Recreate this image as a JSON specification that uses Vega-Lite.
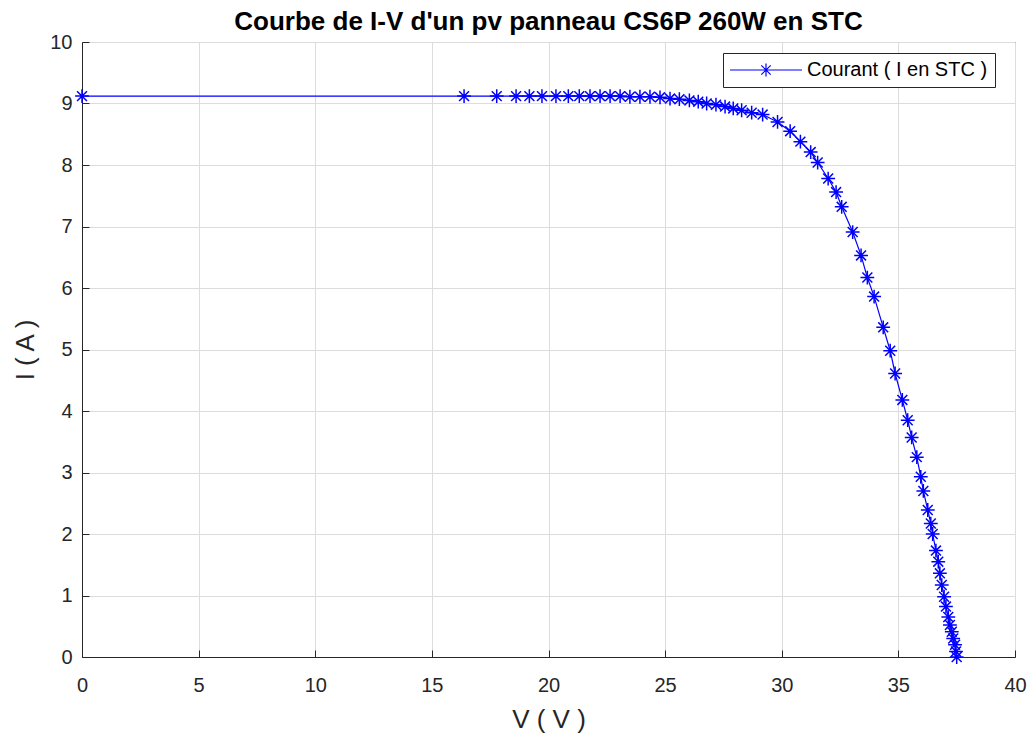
{
  "$schema": "https://vega.github.io/schema/vega-lite/v6.json",
  "width": 933,
  "height": 615,
  "autosize": {"type": "none"},
  "padding": {"left": 82, "top": 42, "right": 16, "bottom": 83},
  "background": "white",
  "title": {
    "text": "Courbe de I-V d'un pv panneau CS6P 260W en STC",
    "font": "Liberation Sans, Arial",
    "fontSize": 26,
    "fontWeight": "bold",
    "color": "#000000",
    "anchor": "middle",
    "offset": -3
  },
  "data": {
    "values": [
      {"V": 0, "I": 9.12, "s": "Courant ( I en STC )"},
      {"V": 16.38, "I": 9.12, "s": "Courant ( I en STC )"},
      {"V": 17.78, "I": 9.12, "s": "Courant ( I en STC )"},
      {"V": 18.61, "I": 9.12, "s": "Courant ( I en STC )"},
      {"V": 19.18, "I": 9.12, "s": "Courant ( I en STC )"},
      {"V": 19.72, "I": 9.12, "s": "Courant ( I en STC )"},
      {"V": 20.32, "I": 9.12, "s": "Courant ( I en STC )"},
      {"V": 20.85, "I": 9.12, "s": "Courant ( I en STC )"},
      {"V": 21.32, "I": 9.12, "s": "Courant ( I en STC )"},
      {"V": 21.78, "I": 9.12, "s": "Courant ( I en STC )"},
      {"V": 22.21, "I": 9.12, "s": "Courant ( I en STC )"},
      {"V": 22.64, "I": 9.12, "s": "Courant ( I en STC )"},
      {"V": 23.07, "I": 9.12, "s": "Courant ( I en STC )"},
      {"V": 23.49, "I": 9.11, "s": "Courant ( I en STC )"},
      {"V": 23.92, "I": 9.11, "s": "Courant ( I en STC )"},
      {"V": 24.35, "I": 9.11, "s": "Courant ( I en STC )"},
      {"V": 24.78, "I": 9.10, "s": "Courant ( I en STC )"},
      {"V": 25.21, "I": 9.08, "s": "Courant ( I en STC )"},
      {"V": 25.61, "I": 9.07, "s": "Courant ( I en STC )"},
      {"V": 26.04, "I": 9.05, "s": "Courant ( I en STC )"},
      {"V": 26.42, "I": 9.03, "s": "Courant ( I en STC )"},
      {"V": 26.78, "I": 9.00, "s": "Courant ( I en STC )"},
      {"V": 27.18, "I": 8.98, "s": "Courant ( I en STC )"},
      {"V": 27.57, "I": 8.95, "s": "Courant ( I en STC )"},
      {"V": 27.92, "I": 8.92, "s": "Courant ( I en STC )"},
      {"V": 28.28, "I": 8.89, "s": "Courant ( I en STC )"},
      {"V": 28.71, "I": 8.85, "s": "Courant ( I en STC )"},
      {"V": 29.18, "I": 8.82, "s": "Courant ( I en STC )"},
      {"V": 29.82, "I": 8.70, "s": "Courant ( I en STC )"},
      {"V": 30.36, "I": 8.55, "s": "Courant ( I en STC )"},
      {"V": 30.80, "I": 8.38, "s": "Courant ( I en STC )"},
      {"V": 31.24, "I": 8.21, "s": "Courant ( I en STC )"},
      {"V": 31.54, "I": 8.04, "s": "Courant ( I en STC )"},
      {"V": 31.99, "I": 7.78, "s": "Courant ( I en STC )"},
      {"V": 32.33, "I": 7.56, "s": "Courant ( I en STC )"},
      {"V": 32.57, "I": 7.32, "s": "Courant ( I en STC )"},
      {"V": 33.04, "I": 6.91, "s": "Courant ( I en STC )"},
      {"V": 33.40, "I": 6.53, "s": "Courant ( I en STC )"},
      {"V": 33.67, "I": 6.17, "s": "Courant ( I en STC )"},
      {"V": 33.96, "I": 5.86, "s": "Courant ( I en STC )"},
      {"V": 34.35, "I": 5.36, "s": "Courant ( I en STC )"},
      {"V": 34.65, "I": 4.98, "s": "Courant ( I en STC )"},
      {"V": 34.86, "I": 4.61, "s": "Courant ( I en STC )"},
      {"V": 35.17, "I": 4.18, "s": "Courant ( I en STC )"},
      {"V": 35.40, "I": 3.85, "s": "Courant ( I en STC )"},
      {"V": 35.57, "I": 3.57, "s": "Courant ( I en STC )"},
      {"V": 35.79, "I": 3.25, "s": "Courant ( I en STC )"},
      {"V": 35.96, "I": 2.93, "s": "Courant ( I en STC )"},
      {"V": 36.07, "I": 2.70, "s": "Courant ( I en STC )"},
      {"V": 36.26, "I": 2.39, "s": "Courant ( I en STC )"},
      {"V": 36.39, "I": 2.17, "s": "Courant ( I en STC )"},
      {"V": 36.47, "I": 2.00, "s": "Courant ( I en STC )"},
      {"V": 36.61, "I": 1.73, "s": "Courant ( I en STC )"},
      {"V": 36.71, "I": 1.55, "s": "Courant ( I en STC )"},
      {"V": 36.78, "I": 1.36, "s": "Courant ( I en STC )"},
      {"V": 36.86, "I": 1.17, "s": "Courant ( I en STC )"},
      {"V": 36.96, "I": 0.98, "s": "Courant ( I en STC )"},
      {"V": 37.04, "I": 0.82, "s": "Courant ( I en STC )"},
      {"V": 37.14, "I": 0.65, "s": "Courant ( I en STC )"},
      {"V": 37.21, "I": 0.52, "s": "Courant ( I en STC )"},
      {"V": 37.29, "I": 0.41, "s": "Courant ( I en STC )"},
      {"V": 37.35, "I": 0.30, "s": "Courant ( I en STC )"},
      {"V": 37.43, "I": 0.20, "s": "Courant ( I en STC )"},
      {"V": 37.47, "I": 0.09, "s": "Courant ( I en STC )"},
      {"V": 37.50, "I": 0.0, "s": "Courant ( I en STC )"}
    ]
  },
  "encoding": {
    "x": {
      "field": "V", "type": "quantitative",
      "scale": {"domain": [0, 40], "nice": false, "zero": false},
      "axis": {"title": "V ( V )", "values": [0,5,10,15,20,25,30,35,40], "titlePadding": 11, "labelPadding": 25}
    },
    "y": {
      "field": "I", "type": "quantitative",
      "scale": {"domain": [0, 10], "nice": false},
      "axis": {"title": "I ( A )", "values": [0,1,2,3,4,5,6,7,8,9,10], "titlePadding": 11, "labelPadding": 17}
    }
  },
  "layer": [
    {
      "mark": {"type": "line", "strokeWidth": 1.2, "color": "#0000ff"},
      "encoding": {
        "color": {
          "field": "s", "type": "nominal",
          "scale": {"range": ["#0000ff"]},
          "legend": {
            "title": null,
            "orient": "none",
            "legendX": 641,
            "legendY": 11,
            "symbolType": "M-4,0L4,0M0,-0.72L0,0.72M-0.72,0L0.72,0M-0.52,-0.52L0.52,0.52M-0.52,0.52L0.52,-0.52",
            "symbolSize": 324,
            "symbolOffset": 26,
            "symbolStrokeWidth": 1.2,
            "symbolStrokeColor": "#0000ff",
            "labelFontSize": 20,
            "labelFont": "Liberation Sans, Arial",
            "labelColor": "#000000",
            "labelOffset": 31,
            "labelLimit": 0,
            "strokeColor": "#262626",
            "fillColor": "white",
            "padding": 7,
            "cornerRadius": 0
          }
        }
      }
    },
    {
      "mark": {
        "type": "point",
        "shape": "M-1,0L1,0M0,-1L0,1M-0.72,-0.72L0.72,0.72M-0.72,0.72L0.72,-0.72",
        "filled": false,
        "color": "#0000ff",
        "size": 190,
        "strokeWidth": 1.5,
        "opacity": 1
      }
    }
  ],
  "config": {
    "view": {"stroke": "#262626", "strokeWidth": 1},
    "axis": {
      "labelFont": "Liberation Sans, Arial",
      "labelFontSize": 20,
      "labelColor": "#262626",
      "titleFont": "Liberation Sans, Arial",
      "titleFontSize": 26,
      "titleFontWeight": "normal",
      "titleColor": "#262626",
      "gridColor": "#dcdcdc",
      "gridWidth": 1,
      "domainColor": "#262626",
      "tickColor": "#262626",
      "tickSize": -7,
      "labelBound": false,
      "labelFlush": false,
      "labelOverlap": false
    }
  }
}
